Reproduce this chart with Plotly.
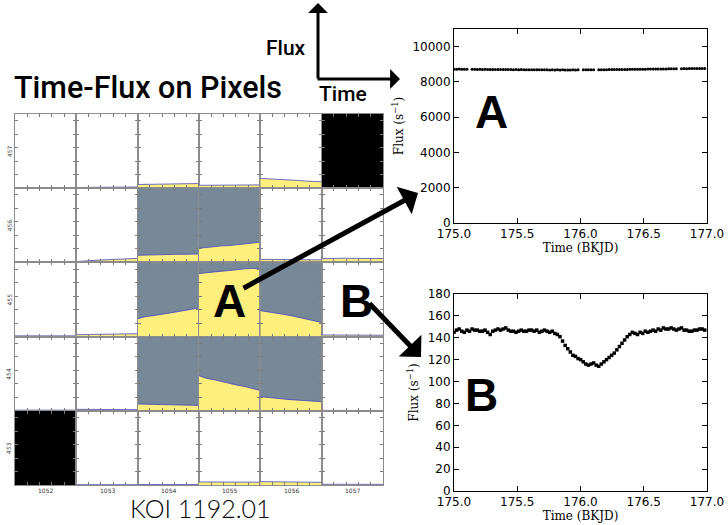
import numpy as np
import plotly.graph_objects as go

W, H = 728, 525

# ---- pixel grid (target pixel file) ----
columns = [1052, 1053, 1054, 1055, 1056, 1057]
rows = [457, 456, 455, 454, 453]
cell_samples = list(range(9))

# flux per pixel (e-/s) sampled along the quarter; None = pixel not plotted
row_457 = [
    [60, 55, 60, 55, 50, 55, 60, 55, 55],
    [110, 120, 130, 140, 150, 160, 170, 175, 180],
    [550, 580, 600, 620, 640, 650, 660, 680, 690],
    [430, 440, 450, 450, 460, 470, 480, 480, 490],
    [1450, 1400, 1300, 1330, 1200, 1150, 1050, 1000, 950],
    None,
]
row_456 = [
    [50, 50, 55, 50, 55, 50, 50, 55, 50],
    [120, 220, 280, 350, 400, 450, 500, 560, 600],
    [1050, 1100, 1100, 1150, 1150, 1200, 1200, 1250, 1250],
    [2100, 2250, 2300, 2450, 2500, 2600, 2700, 2850, 3000],
    [450, 440, 430, 420, 420, 410, 400, 390, 380],
    [550, 600, 580, 620, 600, 590, 600, 580, 570],
]
row_455 = [
    [110, 110, 105, 110, 110, 105, 110, 110, 110],
    [280, 310, 340, 360, 380, 400, 410, 420, 430],
    [2650, 2950, 3100, 3250, 3450, 3650, 3850, 4050, 4250],
    [9350, 9500, 9600, 9700, 9800, 9950, 10050, 10100, 10100],
    [3850, 3700, 3500, 3300, 3100, 2850, 2650, 2350, 2100],
    [240, 230, 230, 220, 220, 220, 210, 210, 200],
]
row_454 = [
    [100, 100, 110, 100, 100, 105, 100, 100, 100],
    [220, 210, 200, 200, 190, 190, 180, 170, 170],
    [1000, 980, 950, 930, 900, 880, 850, 820, 800],
    [5200, 4800, 4600, 4300, 4100, 3800, 3600, 3300, 3000],
    [2100, 1950, 1850, 1750, 1650, 1550, 1500, 1400, 1350],
    [60, 55, 55, 50, 50, 50, 50, 45, 45],
]
row_453 = [
    None,
    [50, 50, 50, 50, 50, 50, 50, 50, 50],
    [70, 70, 70, 70, 70, 70, 70, 70, 70],
    [450, 440, 440, 430, 430, 430, 420, 420, 410],
    [500, 480, 470, 460, 440, 430, 420, 400, 390],
    [110, 110, 105, 105, 100, 100, 100, 95, 95],
]
grid_rows = [row_457, row_456, row_455, row_454, row_453]

aperture_pixels = [(1054, 456), (1055, 456), (1054, 455), (1055, 455),
                   (1056, 455), (1054, 454), (1055, 454), (1056, 454)]
blank_pixels = [(1057, 457), (1052, 453)]

CELL_XMAX = 8
CELL_YMAX = 11000

# ---- single-pixel light curves ----
cadence = 0.020434  # days, Kepler long cadence
t_start = 175.0

flux_a = [
    8720, 8715, 8725, 8718, 8722, 8716, None,
    8712, 8718, 8710, 8715, 8708, 8712, 8706, 8710, 8704, 8708, 8702, 8705, 8700, 8704,
    8698, 8702, 8696, 8700, 8694, 8698, 8692, 8695, 8690, 8694, 8688, 8692, 8686, 8690,
    8684, 8688, 8682, 8686, 8680, 8684, 8680, 8683, 8678, 8682, 8680, 8684, 8681, 8685,
    None,
    8684, 8688, 8686, 8690, 8688, None,
    8690, 8692, 8694, 8693, 8697, 8699, 8700, 8702, 8704, 8706, 8705, 8709, 8711, 8713,
    8714, 8716, 8719, 8720, 8722, 8725, 8726, 8728, 8731, 8733, 8734, 8737, 8739, 8741,
    8742, 8745, 8747, None,
    8752, 8755, 8753, 8757, 8756, 8758, 8760, 8759, 8762, 8761,
]
flux_b = [
    145, 147, 148, 146, 145, 147, 146, 148, 147, 147,
    146, 146, 147, 145, 143, 146, 147, 148, 147, 148,
    149, 147, 146, 146, 145, 146, 147, 146, 146, 147,
    147, 146, 147, 145, 146, 147, 146, 145, 146, 144,
    143,
    141, 137, 133, 130, 127, 124, 123, 121, 120, 118,
    116, 115, 116, 117, 115, 114, 116, 118, 120, 122,
    124, 126, 129, 132, 135, 138, 141, 143, 145, 144,
    143, 145, 144, 146, 145, 146, 147, 146, 148, 147,
    149, 148, 148, 149, 148, 147, 148, 149, 147, 147,
    146, 146, 147, 147, 148, 148, 147,
]
times_a = t_start + cadence * np.arange(len(flux_a))
times_b = t_start + cadence * np.arange(len(flux_b))

time_ticks = [175.0, 175.5, 176.0, 176.5, 177.0]

# ---- styling ----
YELLOW = "#fcef7c"
APERTURE = "#778899"
EDGE = "#4646c4"
CELL_LINE = "#8c8c8c"


def fx(px):
    return px / W


def fy(py):
    return 1 - py / H


GRID_L, GRID_R, GRID_T, GRID_B = 15, 383, 114, 485
cw = (GRID_R - GRID_L) / len(columns)
rh = (GRID_B - GRID_T) / len(rows)

fig = go.Figure()
layout = {}
annotations = []

n = 0
for r, row_id in enumerate(rows):
    for c, col_id in enumerate(columns):
        n += 1
        xa = "x" if n == 1 else f"x{n}"
        ya = "y" if n == 1 else f"y{n}"
        xkey = "xaxis" if n == 1 else f"xaxis{n}"
        ykey = "yaxis" if n == 1 else f"yaxis{n}"
        x0 = GRID_L + c * cw
        y0 = GRID_T + r * rh
        common = dict(showgrid=False, zeroline=False, showticklabels=False,
                      ticks="inside", ticklen=3, tickcolor="#7a7a7a", tickwidth=1,
                      showline=True, linecolor=CELL_LINE, linewidth=1,
                      mirror="allticks", fixedrange=True, layer="above traces")
        layout[xkey] = dict(domain=[fx(x0), fx(x0 + cw)], anchor=ya,
                            range=[0, CELL_XMAX], tickmode="linear", tick0=0, dtick=1.6, **common)
        layout[ykey] = dict(domain=[fy(y0 + rh), fy(y0)], anchor=xa,
                            range=[0, CELL_YMAX], tickmode="linear", tick0=0, dtick=2000, **common)

        pix = (col_id, row_id)
        bg = None
        if pix in blank_pixels:
            bg = "black"
        elif pix in aperture_pixels:
            bg = APERTURE
        if bg is not None:
            # cell background filling the whole pixel frame
            fig.add_trace(go.Scatter(
                x=[0, CELL_XMAX, CELL_XMAX, 0, 0], y=[0, 0, CELL_YMAX, CELL_YMAX, 0],
                xaxis=xa, yaxis=ya, mode="lines", fill="toself", fillcolor=bg,
                line=dict(width=0, color=bg), hoverinfo="skip", showlegend=False))
        vals = grid_rows[r][c]
        if vals is None:
            continue
        fig.add_trace(go.Scatter(
            x=cell_samples, y=vals, xaxis=xa, yaxis=ya, mode="lines",
            fill="tozeroy", fillcolor=YELLOW,
            line=dict(color=EDGE, width=0.8), hoverinfo="skip", showlegend=False))

# column / row labels of the pixel grid
for c, col_id in enumerate(columns):
    annotations.append(dict(x=fx(GRID_L + (c + 0.5) * cw), y=fy(490), xref="paper", yref="paper",
                            xanchor="center", yanchor="middle",
                            text=str(col_id), showarrow=False,
                            font=dict(family="DejaVu Sans", size=6, color="#333")))
for r, row_id in enumerate(rows):
    annotations.append(dict(x=fx(9), y=fy(GRID_T + (r + 0.5) * rh), xref="paper", yref="paper",
                            xanchor="center", yanchor="middle",
                            text=str(row_id), showarrow=False, textangle=-90,
                            font=dict(family="DejaVu Sans", size=6, color="#333")))

# ---- right-hand light curve panels ----
panel_axis = dict(showgrid=False, zeroline=False, showline=True, linecolor="black",
                  linewidth=1, mirror="allticks", ticks="inside", ticklen=5,
                  tickcolor="black", tickfont=dict(family="DejaVu Sans", size=12, color="black"),
                  fixedrange=True)
title_font = dict(family="DejaVu Serif", size=12, color="black")

PX0, PX1 = 454, 707
panels = [
    (31, times_a, flux_a, [0, 11000], 2000, (29, 223), dict(symbol="circle", size=3)),
    (32, times_b, flux_b, [0, 180], 20, (294, 491), dict(symbol="square", size=3.5)),
]
for idx, tt, ff, yr, ydt, (ptop, pbot), mk in panels:
    layout[f"xaxis{idx}"] = dict(domain=[fx(PX0), fx(PX1)], anchor=f"y{idx}",
                                 range=[175, 177], tickmode="array", tickvals=time_ticks,
                                 ticktext=[f"{v:.1f}" for v in time_ticks],
                                 title=dict(text="Time (BKJD)", font=title_font, standoff=1),
                                 automargin=False, **panel_axis)
    layout[f"yaxis{idx}"] = dict(domain=[fy(pbot), fy(ptop)], anchor=f"x{idx}",
                                 range=yr, tickmode="linear", tick0=0, dtick=ydt, tickformat="d",
                                 title=dict(text="Flux (s<sup>−1</sup>)", font=title_font, standoff=6),
                                 automargin=False, **panel_axis)
    fig.add_trace(go.Scatter(x=tt, y=ff, xaxis=f"x{idx}", yaxis=f"y{idx}", mode="markers",
                             marker=dict(color="black", line=dict(width=0), **mk),
                             hoverinfo="skip", showlegend=False))

# ---- text labels ----
sans = "Liberation Sans"
big = dict(family=sans, size=46, color="black", weight="bold")
for txt, x, y in [("A", 229, 301), ("B", 356, 301), ("A", 491, 112), ("B", 481, 395)]:
    annotations.append(dict(x=fx(x), y=fy(y), xref="paper", yref="paper", text=txt,
                            xanchor="center", yanchor="middle", showarrow=False, font=big))

annotations += [
    dict(x=fx(12), y=fy(87), xref="paper", yref="paper", xanchor="left", yanchor="middle",
         text="Time-Flux on Pixels", showarrow=False,
         font=dict(family="Roboto", size=30.5, color="black", weight=500)),
    dict(x=fx(286), y=fy(48), xref="paper", yref="paper", xanchor="center", yanchor="middle",
         text="Flux", showarrow=False,
         font=dict(family="Roboto", size=21, color="black", weight=500)),
    dict(x=fx(343), y=fy(94), xref="paper", yref="paper", xanchor="center", yanchor="middle",
         text="Time", showarrow=False,
         font=dict(family="Roboto", size=21, color="black", weight=500)),
    dict(x=fx(200), y=fy(508), xref="paper", yref="paper", xanchor="center", yanchor="middle",
         text="KOI 1192.01", showarrow=False,
         font=dict(family="Lato", size=25, color="black", weight=300)),
]

# arrows: (tail, tip, width, size)
arrows = [
    ((242, 289), (418, 193), 5, 1.05),
    ((368, 302), (421, 357), 5, 1.05),
    ((318, 80), (318, 3), 3, 1.1),
    ((316, 79), (400, 79), 3, 1.1),
]
for (tx, ty), (hx, hy), wdt, sz in arrows:
    annotations.append(dict(x=fx(hx), y=fy(hy), xref="paper", yref="paper", text="",
                            showarrow=True, ax=tx - hx, ay=ty - hy, axref="pixel", ayref="pixel",
                            arrowhead=1, arrowwidth=wdt, arrowsize=sz, arrowcolor="black",
                            standoff=0, startstandoff=0))

fig.update_layout(
    width=W, height=H, autosize=False,
    margin=dict(l=0, r=0, t=0, b=0),
    paper_bgcolor="white", plot_bgcolor="rgba(0,0,0,0)",
    annotations=annotations, showlegend=False,
    **layout,
)

fig.write_html("out.html")
